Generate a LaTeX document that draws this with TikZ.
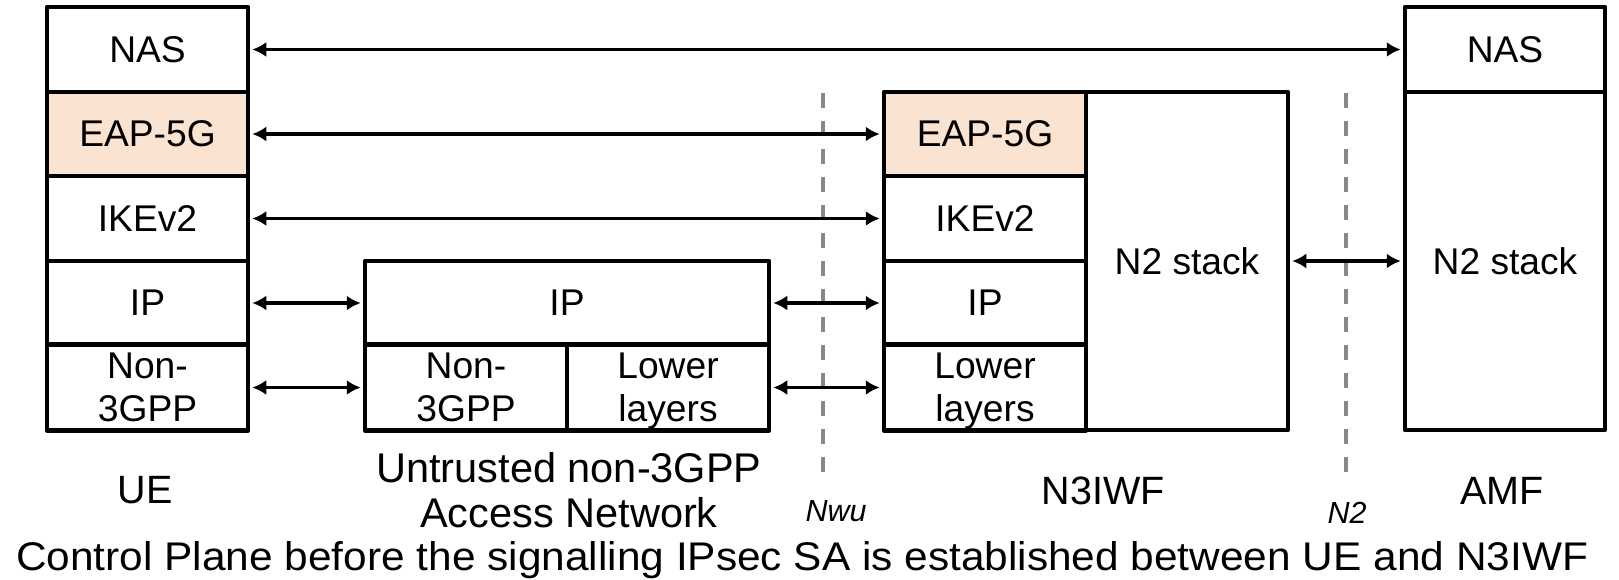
\documentclass[tikz,border=0pt]{standalone}
\usepackage{fontspec}
\setmainfont{Liberation Sans}
\usetikzlibrary{arrows.meta}
\definecolor{peach}{RGB}{251,227,210}
\definecolor{dashgray}{RGB}{136,136,136}
\newcommand\twolines[2]{\raisebox{-4pt}[\height][\depth]{\begin{tabular}{@{}c@{}}#1\\#2\end{tabular}}}
\begin{document}
\begin{tikzpicture}[x=1pt,y=-1pt,
  cell/.style={draw=black,line width=4.5pt,rectangle,inner sep=0pt,align=center,
    font=\fontsize{37.2}{43}\selectfont,line join=round},
  peachcell/.style={cell,fill=peach},
  link/.style={line width=3.8pt,{Latex[length=14pt,width=15pt]}-{Latex[length=14pt,width=15pt]},shorten <=2pt,shorten >=2pt},
  iface/.style={draw=dashgray,line width=3.8pt,dash pattern=on 15pt off 13pt},
  lbl/.style={font=\fontsize{39.5}{45}\selectfont,inner sep=0pt,anchor=base},
  ulbl/.style={font=\fontsize{41.5}{45}\selectfont,inner sep=0pt,anchor=base},
  ilbl/.style={font=\fontsize{30.5}{34}\selectfont\itshape,inner sep=0pt,anchor=base}]
\useasboundingbox (0,0) rectangle (1619,579);
% interface lines
\coordinate (nwuT) at (823,93);
\coordinate (nwuB) at (823,484);
\coordinate (n2T) at (1346,93);
\coordinate (n2B) at (1346,484);
\draw[iface] (nwuT) -- (nwuB);
\draw[iface] (n2T) -- (n2B);
% UE
\node[cell,minimum width=201pt,minimum height=85pt] (ue1) at (147.5,49.5) {NAS};
\node[peachcell,minimum width=201pt,minimum height=84pt] (ue2) at (147.5,134) {EAP-5G};
\node[cell,minimum width=201pt,minimum height=85pt] (ue3) at (147.5,218.5) {IKEv2};
\node[cell,minimum width=201pt,minimum height=84pt] (ue4) at (147.5,303) {IP};
\node[cell,minimum width=201pt,minimum height=85pt] (ue5) at (147.5,387.5) {\twolines{Non-}{3GPP}};
% Untrusted access network
\node[cell,minimum width=404pt,minimum height=84pt] (unip) at (567,303) {IP};
\node[cell,minimum width=202pt,minimum height=85pt] (unn3) at (466,387.5) {\twolines{Non-}{3GPP}};
\node[cell,minimum width=202pt,minimum height=85pt] (unll) at (668,387.5) {\twolines{Lower}{layers}};
% N3IWF
\node[peachcell,minimum width=202pt,minimum height=84pt] (n3eap) at (985,134) {EAP-5G};
\node[cell,minimum width=202pt,minimum height=85pt] (n3ike) at (985,218.5) {IKEv2};
\node[cell,minimum width=202pt,minimum height=84pt] (n3ip) at (985,303) {IP};
\node[cell,minimum width=202pt,minimum height=85pt] (n3ll) at (985,387.5) {\twolines{Lower}{layers}};
\node[cell,minimum width=202pt,minimum height=338pt] (n3n2) at (1187,261) {N2 stack};
% AMF
\node[cell,minimum width=200pt,minimum height=85pt] (amfnas) at (1505,49.5) {NAS};
\node[cell,minimum width=200pt,minimum height=338pt] (amfn2) at (1505,261) {N2 stack};
% links
\draw[link] (ue1.east) -- (amfnas.west);
\draw[link] (ue2.east) -- (n3eap.west);
\draw[link] (ue3.east) -- (n3ike.west);
\draw[link] (ue4.east) -- (unip.west);
\draw[link] (unip.east) -- (n3ip.west);
\draw[link] (ue5.east) -- (unn3.west);
\draw[link] (unll.east) -- (n3ll.west);
\draw[link] (n3n2.east) -- (amfn2.west);
% labels
\node[lbl] (ueL) at (145,503) {UE};
\node[ulbl] (unL1) at (569,482) {Untrusted non-3GPP};
\node[ulbl] (unL2) at (569,527) {Access Network};
\node[lbl] (n3L) at (1103,504) {N3IWF};
\node[lbl] (amfL) at (1502,504) {AMF};
\node[ilbl] (nwuL) at (836,521) {Nwu};
\node[ilbl] (n2L) at (1347,523) {N2};
\node[font=\fontsize{40}{45}\selectfont,inner sep=0pt,anchor=base west,xscale=1.06] (cap) at (16,570) {Control Plane before the signalling IPsec SA is established between UE and N3IWF};
\end{tikzpicture}
\end{document}
